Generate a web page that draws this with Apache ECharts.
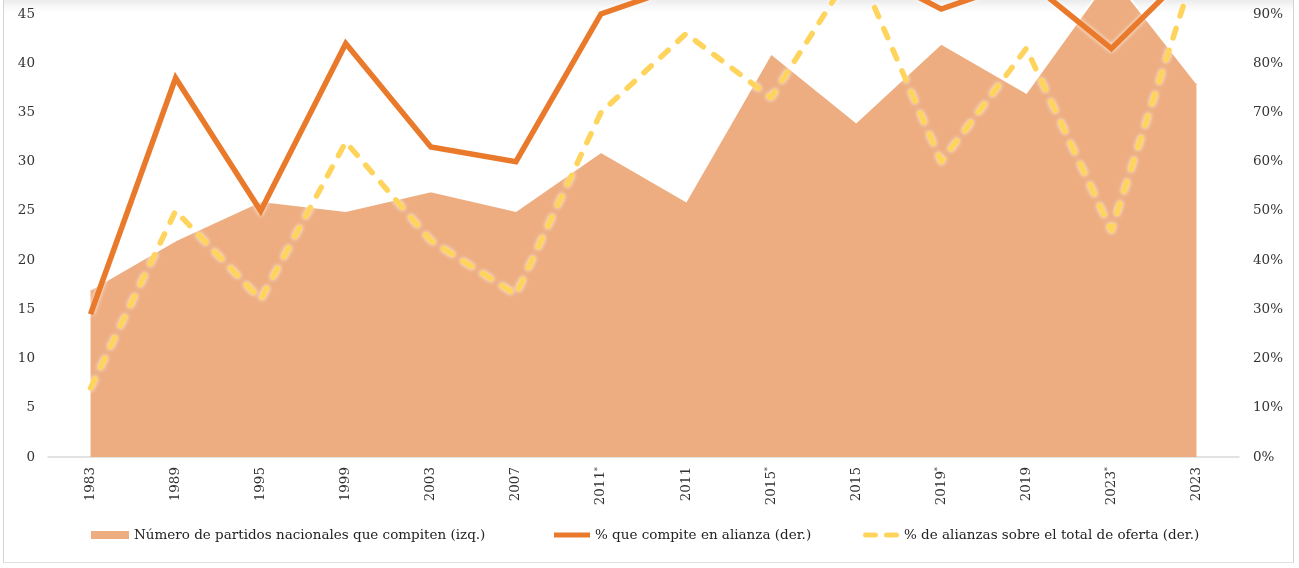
<!DOCTYPE html>
<html lang="es">
<head>
<meta charset="utf-8">
<title>Partidos nacionales y alianzas</title>
<script src="https://cdn.jsdelivr.net/npm/echarts@6/dist/echarts.min.js"></script>
<style>
  html, body { margin: 0; padding: 0; background: #fff; }
  #frame {
    position: absolute; left: 3px; top: 0; width: 1289px; height: 562px;
    border-left: 1px solid #d4d4d4; border-right: 1px solid #d4d4d4; border-bottom: 1px solid #e2e2e2;
    background: linear-gradient(to bottom, #ebebeb 0px, #f7f7f7 6px, #ffffff 13px);
  }
  #chart { position: absolute; left: 0; top: 0; width: 1299px; height: 568px; }
</style>
</head>
<body>
<div id="frame"></div>
<div id="chart"></div>
<script>
// Elecciones (el asterisco marca la instancia primaria)
const categories = ['1983', '1989', '1995', '1999', '2003', '2007', '2011*', '2011', '2015*', '2015', '2019*', '2019', '2023*', '2023'];

// Número de partidos nacionales que compiten (eje izquierdo)
const partidos = [17, 22, 26, 25, 27, 25, 31, 26, 41, 34, 42, 37, 49, 38];

// % de partidos que compiten en alianza (eje derecho)
const enAlianza = [0.29, 0.77, 0.50, 0.84, 0.63, 0.60, 0.90, 0.96, 1.00, 1.00, 0.91, 0.97, 0.83, 1.00];

// % de alianzas sobre el total de la oferta (eje derecho)
const alianzasOferta = [0.14, 0.50, 0.32, 0.64, 0.44, 0.33, 0.70, 0.86, 0.73, 1.00, 0.60, 0.83, 0.46, 1.00];

// Marcas de los ejes
const leftTicks = { min: 0, max: 45, interval: 5 };
const rightTicks = { min: 0, max: 0.9, interval: 0.1 };

const names = [
  'Número de partidos nacionales que compiten (izq.)',
  '% que compite en alianza (der.)',
  '% de alianzas sobre el total de oferta (der.)'
];

const FONT = 'DejaVu Serif';
const TXT = '#333333';
const C_AREA = '#EDAD80';
const C_ORANGE = '#EA7A2B';
const C_YELLOW = '#FFD45C';

// Iconos de leyenda: trazo continuo y trazo discontinuo de dos guiones
const ICON_SOLID = 'path://M0,0 L36,0 L36,5 L0,5 Z';
const ICON_DASHED = 'path://M2.5,0 L12.5,0 A2.5,2.5 0 0 1 12.5,5 L2.5,5 A2.5,2.5 0 0 1 2.5,0 Z M23.5,0 L33.5,0 A2.5,2.5 0 0 1 33.5,5 L23.5,5 A2.5,2.5 0 0 1 23.5,0 Z';

const chart = echarts.init(document.getElementById('chart'), null, { renderer: 'canvas' });

const legendText = { fontFamily: FONT, fontSize: 13.5, color: '#222222', padding: [0, 0, 0, 0] };

chart.setOption({
  backgroundColor: 'transparent',
  animation: false,
  grid: { left: 48, right: 60, top: 14, bottom: 111, containLabel: false },
  legend: [
    {
      left: 86, top: 523, itemWidth: 38, itemHeight: 8, itemGap: 0,
      textStyle: legendText, selectedMode: false,
      data: [{ name: names[0], icon: 'rect', itemStyle: { color: C_AREA } }]
    },
    {
      left: 549, top: 523, itemWidth: 36, itemHeight: 5, itemGap: 0,
      textStyle: legendText, selectedMode: false,
      data: [{ name: names[1], icon: ICON_SOLID, itemStyle: { color: C_ORANGE } }]
    },
    {
      left: 858, top: 523, itemWidth: 36, itemHeight: 5, itemGap: 0,
      textStyle: legendText, selectedMode: false,
      data: [{ name: names[2], icon: ICON_DASHED, itemStyle: { color: C_YELLOW } }]
    }
  ],
  xAxis: {
    type: 'category',
    data: categories,
    boundaryGap: true,
    axisLine: { lineStyle: { color: '#d9d9d9', width: 1.5 } },
    axisTick: { show: false },
    axisLabel: {
      rotate: 90,
      margin: 10,
      fontFamily: FONT,
      fontSize: 13.5,
      color: TXT,
      formatter: function (v) {
        return v.endsWith('*') ? v.slice(0, -1) + '{sup|*}' : v;
      },
      rich: {
        sup: { fontFamily: FONT, fontSize: 8, color: TXT, verticalAlign: 'top', padding: [0, 0, 6, 0] }
      }
    }
  },
  yAxis: [
    {
      type: 'value',
      min: leftTicks.min, max: leftTicks.max, interval: leftTicks.interval,
      axisLine: { show: false }, axisTick: { show: false }, splitLine: { show: false },
      axisLabel: { margin: 13, fontFamily: FONT, fontSize: 13.5, color: TXT }
    },
    {
      type: 'value',
      min: rightTicks.min, max: rightTicks.max, interval: rightTicks.interval,
      axisLine: { show: false }, axisTick: { show: false }, splitLine: { show: false },
      axisLabel: {
        margin: 14, fontFamily: FONT, fontSize: 13.5, color: TXT,
        formatter: function (v) { return Math.round(v * 100) + '%'; }
      }
    }
  ],
  series: [
    {
      name: names[0],
      type: 'line',
      yAxisIndex: 0,
      data: partidos,
      symbol: 'none',
      clip: false,
      z: 1,
      color: C_AREA,
      lineStyle: { color: '#ffffff', width: 2, join: 'miter' },
      areaStyle: { color: C_AREA, opacity: 1 }
    },
    {
      name: names[1],
      type: 'line',
      yAxisIndex: 1,
      data: enAlianza,
      symbol: 'none',
      clip: false,
      z: 3,
      color: C_ORANGE,
      lineStyle: {
        color: C_ORANGE, width: 5.5, join: 'miter', cap: 'butt',
        shadowColor: 'rgba(255,255,255,0.9)', shadowBlur: 4
      }
    },
    {
      name: names[2],
      type: 'line',
      yAxisIndex: 1,
      data: alianzasOferta,
      symbol: 'none',
      clip: false,
      z: 4,
      color: C_YELLOW,
      lineStyle: {
        color: C_YELLOW, width: 5.5, type: [10, 13], cap: 'round', join: 'round',
        shadowColor: 'rgba(255,255,255,0.9)', shadowBlur: 4
      }
    }
  ]
});
</script>
</body>
</html>
